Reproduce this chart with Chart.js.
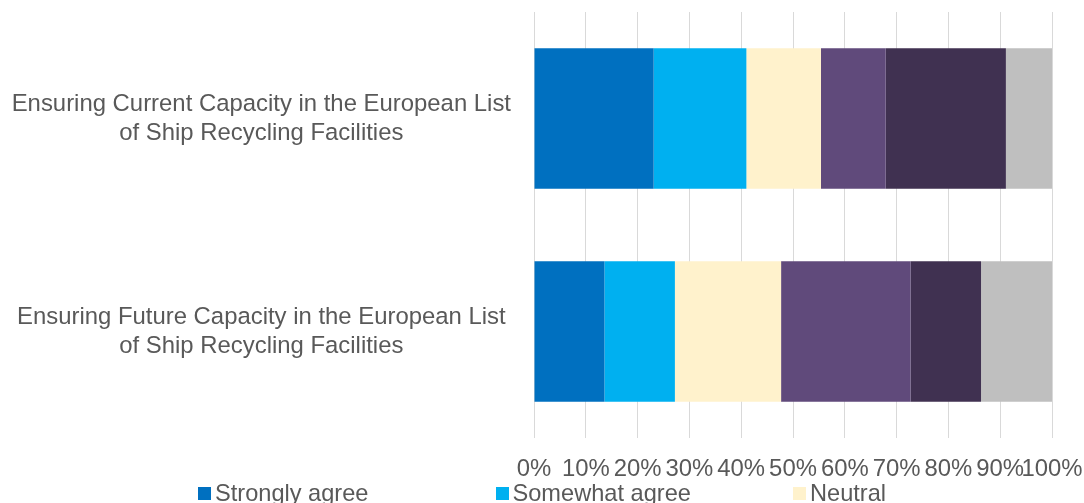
<!DOCTYPE html>
<html>
<head>
<meta charset="utf-8">
<script src="https://cdn.jsdelivr.net/npm/chart.js@4"></script>
<style>
  html, body { margin: 0; padding: 0; background: #fff; overflow: hidden; }
  body { width: 1084px; height: 503px; position: relative; font-family: "Liberation Sans", Arial, sans-serif; }
  .chart-box { position: absolute; left: 0; top: 0; width: 1084px; height: 503px; }
  #legend {
    position: absolute; left: 198px; top: 479px;
    display: grid; grid-template-columns: repeat(3, 297.5px);
    font-size: 23.6px; color: #595959; line-height: 28px;
  }
  .leg-item { display: flex; align-items: center; white-space: nowrap; }
  .leg-box { width: 13px; height: 13px; margin-right: 4px; flex: none; }
</style>
</head>
<body>
<div class="chart-box"><canvas id="capacityChart"></canvas></div>
<div id="legend"></div>
<script>
const categorias = [
  ['Ensuring Current Capacity in the European List', 'of Ship Recycling Facilities'],
  ['Ensuring Future Capacity in the European List', 'of Ship Recycling Facilities']
];
const respostas = ['Strongly agree', 'Somewhat agree', 'Neutral', 'Somewhat disagree', 'Strongly disagree', "Don't know"];
const cores = ['#0070C0', '#00B0F0', '#FFF2CC', '#604A7B', '#403151', '#BFBFBF'];

// percentuais por resposta (atual, futuro)
const stronglyAgree = [23.1, 13.6];
const somewhatAgree = [17.9, 13.6];
const neutral = [14.4, 20.5];
const somewhatDisagree = [12.5, 25.0];
const stronglyDisagree = [23.2, 13.6];
const dontKnow = [8.9, 13.7];
const valores = [stronglyAgree, somewhatAgree, neutral, somewhatDisagree, stronglyDisagree, dontKnow];

const ticksX = [0, 10, 20, 30, 40, 50, 60, 70, 80, 90, 100];

Chart.defaults.font.family = '"Liberation Sans", Arial, sans-serif';
Chart.defaults.font.size = 23.9;
Chart.defaults.color = '#595959';

const ctx = document.getElementById('capacityChart').getContext('2d');
const chart = new Chart(ctx, {
  type: 'bar',
  data: {
    labels: categorias,
    datasets: respostas.map((nome, i) => ({
      label: nome,
      data: valores[i],
      backgroundColor: cores[i],
      borderWidth: 0,
      categoryPercentage: 1,
      barPercentage: 0.66
    }))
  },
  options: {
    indexAxis: 'y',
    responsive: true,
    maintainAspectRatio: false,
    animation: false,
    layout: { padding: { top: 12, right: 32, bottom: 22, left: 0 } },
    plugins: {
      legend: { display: false },
      tooltip: { enabled: false }
    },
    scales: {
      x: {
        stacked: true,
        min: 0,
        max: 100,
        afterBuildTicks: (scale) => { scale.ticks = ticksX.map(v => ({ value: v })); },
        afterFit: (scale) => {
          scale.height = 43;
          scale.paddingLeft = 0;
          scale.paddingRight = 0;
        },
        border: { display: false },
        grid: { color: '#D9D9D9', lineWidth: 1, drawTicks: false },
        ticks: {
          padding: 17,
          maxRotation: 0,
          autoSkip: false,
          callback: function(value) {
            return value + '%';
          }
        }
      },
      y: {
        stacked: true,
        afterFit: (scale) => {
          scale.width = 534;
          scale.paddingTop = 0;
          scale.paddingBottom = 0;
        },
        border: { display: false },
        grid: { display: false, drawTicks: false },
        ticks: { crossAlign: 'center', padding: 23, font: { lineHeight: 1.22 } }
      }
    }
  }
});

// legenda em grade de 3 colunas
const legend = document.getElementById('legend');
chart.data.datasets.forEach(ds => {
  const item = document.createElement('div');
  item.className = 'leg-item';
  const box = document.createElement('span');
  box.className = 'leg-box';
  box.style.background = ds.backgroundColor;
  const txt = document.createElement('span');
  txt.textContent = ds.label;
  item.appendChild(box);
  item.appendChild(txt);
  legend.appendChild(item);
});
</script>
</body>
</html>
